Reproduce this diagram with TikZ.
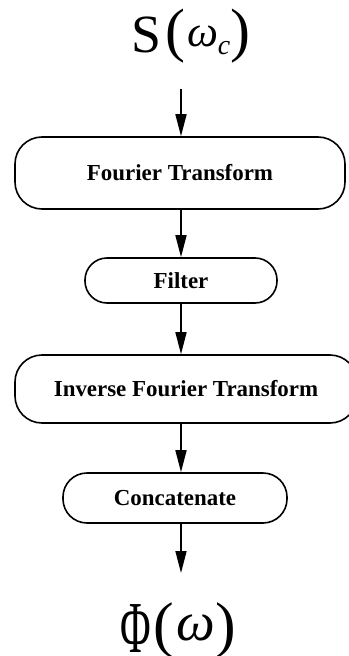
\documentclass[tikz,border=0pt]{standalone}
\usepackage{fontspec}
\setmainfont{Liberation Serif}
\usetikzlibrary{arrows.meta}
\newcommand{\fsz}[1]{\fontsize{#1}{#1}\selectfont}
\begin{document}
\begin{tikzpicture}[x=1bp,y=-1bp,
  procbox/.style={draw, line width=1.6bp, inner sep=0pt, align=center,
    font=\fontsize{23}{27}\selectfont\bfseries},
  arr/.style={line width=1.6bp, -{Triangle[length=22bp,width=11bp]}},
  biglabel/.style={anchor=base west, inner sep=0pt}]
\useasboundingbox (0,0) rectangle (348,656);
\node[biglabel] (sin) at (131,53) {{\fsz{54}S}\hspace{4bp}\raisebox{2bp}{\fsz{60}(}\hspace{2bp}\raisebox{6bp}{\fsz{44}\itshape ω}\raisebox{-2bp}{\fsz{28}\itshape c}\hspace{0bp}\raisebox{2bp}{\fsz{60})}};
\node[procbox, minimum width=330bp, minimum height=72bp, rounded corners=27bp] (ft) at (180,173) {Fourier Transform};
\node[procbox, minimum width=192bp, minimum height=45bp, rounded corners=22bp] (filt) at (181,280.5) {Filter};
\node[procbox, minimum width=342bp, minimum height=68bp, rounded corners=27bp] (ift) at (186,389) {Inverse Fourier Transform};
\node[procbox, minimum width=224bp, minimum height=50bp, rounded corners=24bp] (cat) at (175,498) {Concatenate};
\node[biglabel] (sout) at (120,652) {\scalebox{0.6}[1.05]{\fsz{70}Φ}\hspace{3bp}\raisebox{7bp}{\fsz{62}(}\hspace{2bp}\raisebox{12bp}{\fsz{55}\itshape ω}\raisebox{7bp}{\fsz{62})}};
\coordinate (a0) at (181,89);
\coordinate (a5) at (181,573);
\draw[arr] (a0) -- (ft.north -| a0);
\draw[arr] (ft.south -| a0) -- (filt.north -| a0);
\draw[arr] (filt.south -| a0) -- (ift.north -| a0);
\draw[arr] (ift.south -| a0) -- (cat.north -| a0);
\draw[arr] (cat.south -| a0) -- (a5);
\end{tikzpicture}
\end{document}
